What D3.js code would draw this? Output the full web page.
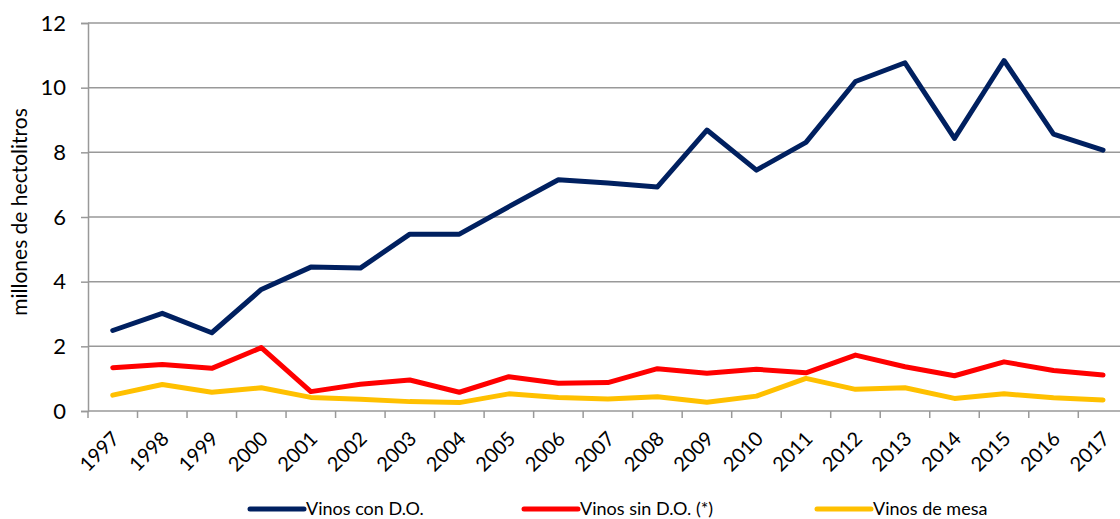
<!DOCTYPE html>
<html>
<head>
<meta charset="utf-8">
<script src="https://cdn.jsdelivr.net/npm/d3@7"></script>
<style>
  body { margin: 0; background: #fff; }
  svg { display: block; font-family: Lato, "Open Sans", sans-serif; }
</style>
</head>
<body>
<script>
'use strict';

// data
const years = ["1997","1998","1999","2000","2001","2002","2003","2004","2005","2006","2007",
  "2008","2009","2010","2011","2012","2013","2014","2015","2016","2017"];
const conDO = [2.49, 3.02, 2.42, 3.76, 4.45, 4.42, 5.47, 5.47, 6.32, 7.15, 7.05,
  6.93, 8.69, 7.45, 8.31, 10.19, 10.77, 8.43, 10.84, 8.56, 8.07];
const sinDO = [1.34, 1.44, 1.32, 1.96, 0.6, 0.83, 0.96, 0.58, 1.06, 0.86, 0.88,
  1.31, 1.17, 1.29, 1.18, 1.73, 1.37, 1.09, 1.52, 1.25, 1.11];
const mesa = [0.49, 0.82, 0.58, 0.72, 0.42, 0.36, 0.29, 0.26, 0.53, 0.42, 0.37,
  0.44, 0.27, 0.46, 1.01, 0.67, 0.72, 0.39, 0.53, 0.41, 0.34];
const yTicks = [0, 2, 4, 6, 8, 10, 12];
const seriesNames = ["Vinos con D.O.", "Vinos sin D.O. (*)", "Vinos de mesa"];
const seriesColors = ["#002060", "#ff0000", "#ffc000"];

(function () {
  const width = 1120, height = 519;
  const svg = d3.select('body').append('svg')
    .attr('width', width)
    .attr('height', height);

  // plot area runs a little past the right edge, as in the reference
  const x = d3.scaleBand().domain(years).range([88, 1127.8]);
  const y = d3.scaleLinear().domain([0, 12]).range([411, 23]);
  const xMid = d => x(d) + x.bandwidth() / 2;

  // horizontal gridlines
  svg.append('g')
    .selectAll('line')
    .data(yTicks.filter(t => t > 0))
    .enter().append('line')
    .attr('x1', 88).attr('x2', width)
    .attr('y1', d => y(d)).attr('y2', d => y(d))
    .attr('stroke', '#999')
    .attr('stroke-width', 1.5);

  // y axis
  const yAxis = d3.axisLeft(y).tickValues(yTicks).tickSize(7).tickPadding(15);
  const gy = svg.append('g')
    .attr('transform', 'translate(88,0)')
    .call(yAxis);
  gy.select('.domain').attr('stroke', '#999').attr('stroke-width', 1.5);
  gy.selectAll('.tick line').attr('stroke', '#999').attr('stroke-width', 1.5);
  gy.selectAll('.tick text')
    .attr('fill', '#000')
    .style('font-family', 'Lato, sans-serif')
    .style('font-size', '22px');

  // x axis, ticks at category borders
  const gx = svg.append('g')
    .attr('transform', 'translate(0,411)');
  gx.append('line')
    .attr('x1', 88).attr('x2', width)
    .attr('y1', 0).attr('y2', 0)
    .attr('stroke', '#999').attr('stroke-width', 1.5);
  gx.selectAll('.tk')
    .data(years)
    .enter().append('line')
    .attr('class', 'tk')
    .attr('x1', d => x(d)).attr('x2', d => x(d))
    .attr('y1', 0).attr('y2', 7)
    .attr('stroke', '#999').attr('stroke-width', 1.5);
  gx.selectAll('text')
    .data(years)
    .enter().append('text')
    .attr('transform', d => `translate(${xMid(d) + 3},${24}) rotate(-45)`)
    .attr('text-anchor', 'end')
    .attr('dy', '0.35em')
    .style('font-size', '20px')
    .text(d => d);

  // y title
  svg.append('text')
    .attr('transform', 'translate(27,212) rotate(-90)')
    .attr('text-anchor', 'middle')
    .style('font-size', '21px')
    .text('millones de hectolitros');

  // lines
  const line = d3.line()
    .x((d, i) => xMid(years[i]))
    .y(d => y(d));
  [conDO, sinDO, mesa].forEach((vals, i) => {
    svg.append('path')
      .datum(vals)
      .attr('fill', 'none')
      .attr('stroke', seriesColors[i])
      .attr('stroke-width', 5)
      .attr('stroke-linejoin', 'round')
      .attr('stroke-linecap', 'round')
      .attr('d', line);
  });

  // legend
  const legendX = [248, 522, 815];
  const lg = svg.append('g').selectAll('g')
    .data(seriesNames)
    .enter().append('g')
    .attr('transform', (d, i) => `translate(${legendX[i]},509)`);
  lg.append('line')
    .attr('x1', 2).attr('x2', 56)
    .attr('stroke', (d, i) => seriesColors[i])
    .attr('stroke-width', 5)
    .attr('stroke-linecap', 'round');
  lg.append('text')
    .attr('x', 58)
    .attr('dy', '0.35em')
    .style('font-size', '18px')
    .text(d => d);
})();
</script>
</body>
</html>
